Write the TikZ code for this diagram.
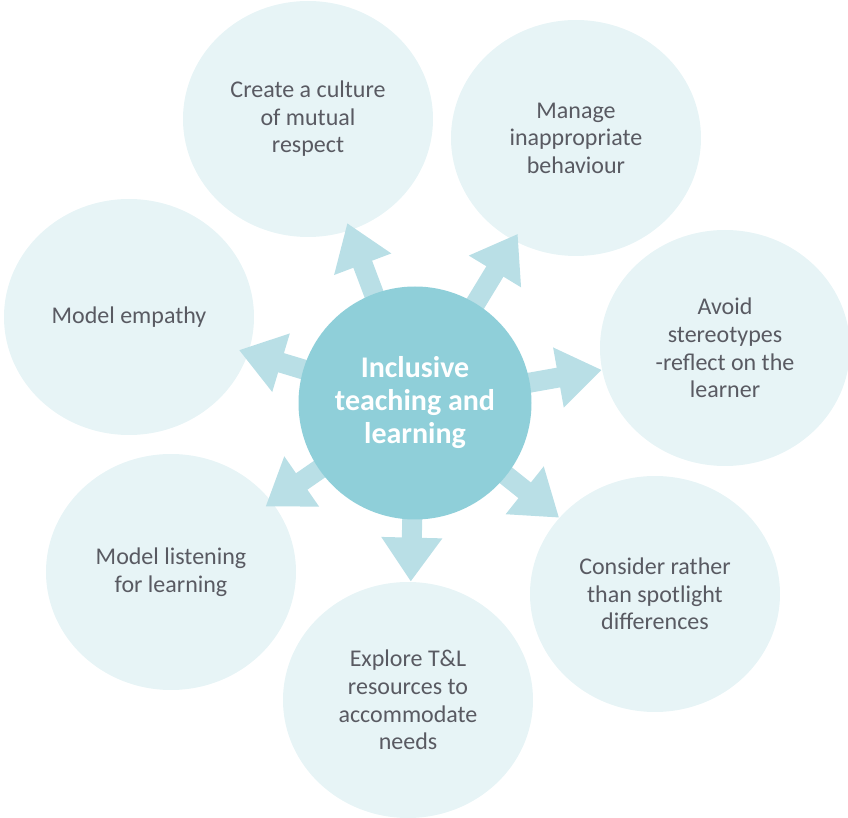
\documentclass[tikz,border=0pt]{standalone}
\usepackage{fontspec}
\setmainfont{Carlito}
\usepackage{tikz}
\usetikzlibrary{arrows.meta,shapes.geometric,backgrounds}
\definecolor{hubblue}{HTML}{8FCFD9}
\definecolor{spokeblue}{HTML}{B9DFE6}
\definecolor{bubbleblue}{HTML}{E7F4F6}
\definecolor{textgrey}{HTML}{595A62}
\tikzset{
    hub/.style={circle,fill=hubblue,inner sep=0pt,minimum size=116.5pt,align=center,
        text=white,font=\fontsize{15}{16.5}\selectfont\bfseries},
    bubble/.style={ellipse,fill=bubbleblue,inner sep=0pt,minimum width=125pt,minimum height=118pt,
        align=center,text=textgrey,font=\fontsize{12}{13.8}\selectfont},
    spoke/.style={-{Triangle[width=29pt,length=22pt]},line width=10pt,draw=spokeblue}
}

\begin{document}
\begin{tikzpicture}[x=0.5pt,y=-0.5pt]

                \useasboundingbox (0,0) rectangle (848,818);

                \node[hub]    (hub)       at (415,403) {Inclusive\\teaching and\\learning};

                \begin{scope}[on background layer]
                    \node[bubble] (respect)   at (308,119) {Create a culture\\of mutual\\respect};
                    \node[bubble] (behaviour) at (576,138) {Manage\\inappropriate\\behaviour};
                    \node[bubble] (avoid)     at (725,348) {Avoid\\stereotypes\\-reflect on the\\learner};
                    \node[bubble] (consider)  at (655,594) {Consider rather\\than spotlight\\differences};
                    \node[bubble] (explore)   at (408,700) {Explore T\&L\\resources to\\accommodate\\needs};
                    \node[bubble] (listening) at (171,572) {Model listening\\for learning};
                    \node[bubble] (empathy)   at (129,317) {Model empathy};

                    \foreach \target/\reach in {respect/-4pt,behaviour/-4pt,avoid/0pt,consider/0pt,
                                                explore/0pt,listening/-4pt,empathy/-5pt}
                        \draw[spoke,shorten >=\reach] (hub.center) -- (\target);
                \end{scope}

            \end{tikzpicture}
\end{document}
